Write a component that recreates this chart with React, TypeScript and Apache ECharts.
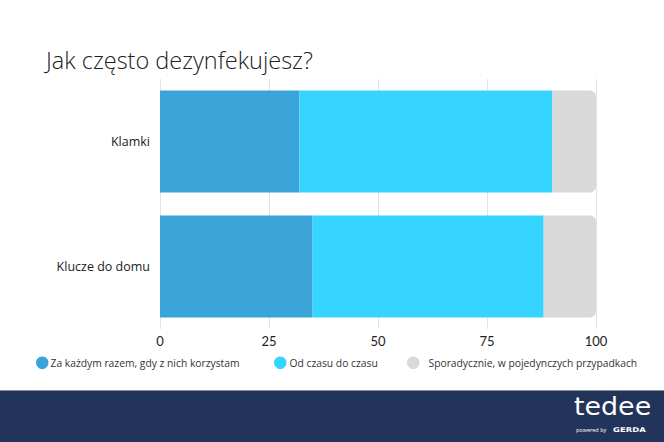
import React, { useEffect, useRef } from "react";
import * as echarts from "echarts";

const categories = ["Klamki", "Klucze do domu"];
const seriesNames = [
  "Za każdym razem, gdy z nich korzystam",
  "Od czasu do czasu",
  "Sporadycznie, w pojedynczych przypadkach",
];
const alwaysValues = [32, 35];
const sometimesValues = [58, 53];
const rarelyValues = [10, 12];
const xTicks = [0, 25, 50, 75, 100];

export default function App() {
  const ref = useRef<HTMLDivElement>(null);
  useEffect(() => {
    const chart = echarts.init(ref.current!, null, { renderer: "svg" });
    const colors = ["#3aa3d8", "#36d5ff", "#d9d9d9"];
    const legendLefts = [36, 274, 407];
    const legendPads = [-3, -2, 4];
    chart.setOption({
      animation: false,
      backgroundColor: "#ffffff",
      title: {
        text: "Jak często dezynfekujesz?",
        left: 41,
        top: 43,
        textStyle: { fontFamily: "Open Sans", fontWeight: 300, fontSize: 23.5, color: "#222222" },
      },
      legend: seriesNames.map((n, i) => ({
        left: legendLefts[i],
        top: 356.5,
        padding: 0,
        icon: "circle",
        itemWidth: 12.5,
        itemHeight: 12.5,
        itemGap: 5,
        textStyle: {
          fontFamily: "Open Sans",
          fontSize: 10.3,
          color: "#333333",
          padding: [0, 0, 0, legendPads[i]],
        },
        data: [n],
      })),
      grid: { left: 160, right: 68, top: 79, height: 250, containLabel: false },
      xAxis: {
        type: "value",
        min: 0,
        max: 100,
        interval: 25,
        axisLine: { show: false },
        axisTick: { show: false },
        splitLine: { show: true, lineStyle: { color: "#e3e3e3", width: 1 } },
        axisLabel: {
          fontFamily: "Lato",
          fontSize: 13,
          color: "#222222",
          margin: 5,
          formatter: (v: number) => (xTicks.includes(v) ? String(v) : ""),
        },
      },
      yAxis: {
        type: "category",
        data: categories,
        inverse: true,
        axisLine: { show: false },
        axisTick: { show: false },
        axisLabel: { fontFamily: "Open Sans", fontSize: 12.5, color: "#222222", margin: 10 },
      },
      series: [
        { name: seriesNames[0], type: "bar", stack: "s", data: alwaysValues, barWidth: 102, itemStyle: { color: colors[0] } },
        { name: seriesNames[1], type: "bar", stack: "s", data: sometimesValues, barWidth: 102, itemStyle: { color: colors[1] } },
        {
          name: seriesNames[2],
          type: "bar",
          stack: "s",
          data: rarelyValues,
          barWidth: 102,
          itemStyle: { color: colors[2], borderRadius: [0, 6, 6, 0] },
        },
      ],
      graphic: [
        { type: "rect", left: 0, top: 390, shape: { width: 664, height: 52 }, style: { fill: "#22345a" } },
        { type: "rect", left: 0, top: 390, shape: { width: 664, height: 1 }, style: { fill: "#8a8f9a" } },
        {
          type: "text",
          x: 574,
          y: 395,
          scaleX: 1.12,
          style: { text: "tedee", fill: "#ffffff", font: "500 24px 'DejaVu Sans'" },
        },
        {
          type: "text",
          x: 576,
          y: 427,
          style: { text: "powered by", fill: "#ffffff", font: "5.5px 'Open Sans'" },
        },
        {
          type: "text",
          x: 613,
          y: 426,
          scaleX: 1.3,
          style: { text: "GERDA", fill: "#ffffff", font: "bold 6.5px 'DejaVu Sans'" },
        },
      ],
    });
    return () => chart.dispose();
  }, []);
  return <div ref={ref} style={{ width: 664, height: 442, position: "absolute", left: 0, top: 0 }} />;
}
